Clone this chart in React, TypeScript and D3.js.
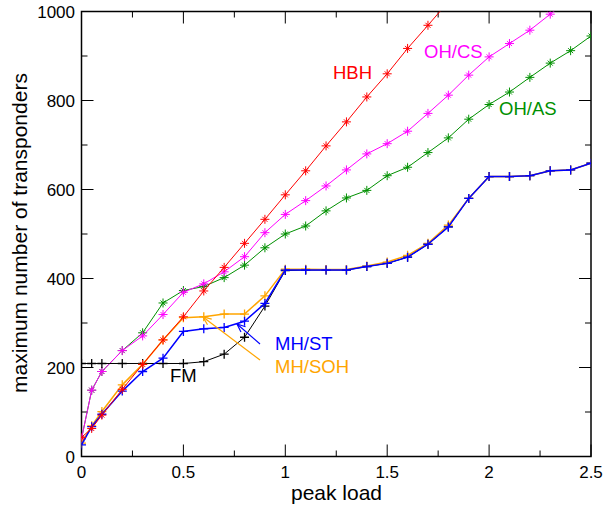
import React, { useEffect, useRef } from 'react';
import * as d3 from 'd3';

// peak load values (x) shared by all series
const loads = [0, 0.05, 0.1, 0.2, 0.3, 0.4, 0.5, 0.6, 0.7, 0.8, 0.9, 1.0, 1.1, 1.2, 1.3,
  1.4, 1.5, 1.6, 1.7, 1.8, 1.9, 2.0, 2.1, 2.2, 2.3, 2.4, 2.5];

// maximum number of transponders per algorithm
const hbh = [43, 63, 93, 151, 207, 262, 314, 372, 425, 479, 533, 588, 642, 698, 752, 808, 860, 917, 969, 1022];
const ohcs = [40, 149, 191, 238, 271, 319, 369, 388, 415, 449, 503, 544, 575, 608, 644, 680, 703, 731,
  771, 812, 857, 898, 928, 958, 994, 1030];
const ohas = [40, 149, 191, 238, 278, 345, 373, 382, 402, 430, 469, 500, 518, 552, 581, 598, 631, 650,
  683, 716, 758, 791, 819, 852, 884, 912, 945];
const mhst = [26, 67, 95, 147, 191, 221, 281, 287, 290, 304, 344, 419, 419, 419, 419, 427, 434, 448,
  477, 516, 580, 629, 629, 631, 642, 644, 659];
const mhsoh = [30, 69, 101, 161, 207, 262, 312, 314, 320, 320, 361, 421, 421, 420, 420, 428, 437, 452,
  479, 520, 580, 629, 629, 631, 642, 644, 659];
const fm = [209, 209, 209, 209, 209, 209, 209, 213, 230, 268, 338, 418, 419, 419, 419, 427, 434, 448,
  477, 516, 580, 629, 629, 631, 642, 644, 659];

const xTicks = [0, 0.5, 1, 1.5, 2, 2.5];
const xMinor = [0.25, 0.75, 1.25, 1.75, 2.25];
const yTicks = [0, 200, 400, 600, 800, 1000];
const yMinor = [100, 300, 500, 700, 900];

const series = [
  { name: 'OH/AS', values: ohas, color: '#009000', marker: 'star', width: 1 },
  { name: 'OH/CS', values: ohcs, color: '#ff00ff', marker: 'star', width: 1 },
  { name: 'FM', values: fm, color: '#000000', marker: 'plus', width: 1 },
  { name: 'MH/SOH', values: mhsoh, color: '#ffa500', marker: 'plus', width: 1.5 },
  { name: 'MH/ST', values: mhst, color: '#0000ff', marker: 'plus', width: 1.5 },
  { name: 'HBH', values: hbh, color: '#ff0000', marker: 'star', width: 1 },
];

const font = 'Liberation Sans, Arial, Helvetica, sans-serif';

export default function App() {
  const ref = useRef<SVGSVGElement>(null);

  useEffect(() => {
    const svg = d3.select(ref.current);
    svg.selectAll('*').remove();

    const left = 81.5, right = 591, top = 11.5, bottom = 456.5;
    const x = d3.scaleLinear().domain([0, 2.5]).range([left, right]);
    const y = d3.scaleLinear().domain([0, 1000]).range([bottom, top]);

    svg.append('defs').append('clipPath').attr('id', 'plot')
      .append('rect').attr('x', left).attr('y', top)
      .attr('width', right - left).attr('height', bottom - top);

    //ticks on all four sides, pointing inward
    const ticks = svg.append('g').attr('stroke', '#000').attr('stroke-width', 1);
    const tick = (vals: number[], len: number) => {
      vals.forEach(v => {
        ticks.append('line').attr('x1', x(v)).attr('x2', x(v)).attr('y1', bottom).attr('y2', bottom - len);
        ticks.append('line').attr('x1', x(v)).attr('x2', x(v)).attr('y1', top).attr('y2', top + len);
      });
    };
    const ytick = (vals: number[], len: number) => {
      vals.forEach(v => {
        ticks.append('line').attr('y1', y(v)).attr('y2', y(v)).attr('x1', left).attr('x2', left + len);
        ticks.append('line').attr('y1', y(v)).attr('y2', y(v)).attr('x1', right).attr('x2', right - len);
      });
    };
    tick(xTicks, 12);
    tick(xMinor, 6);
    ytick(yTicks, 12);
    ytick(yMinor, 6);

    svg.append('rect').attr('x', left).attr('y', top)
      .attr('width', right - left).attr('height', bottom - top)
      .attr('fill', 'none').attr('stroke', '#000').attr('stroke-width', 1.5);

    //tick labels
    svg.append('g').selectAll('text').data(xTicks).enter().append('text')
      .attr('x', d => x(d)).attr('y', bottom + 21.5)
      .attr('text-anchor', 'middle').attr('font-size', 17).attr('font-family', font)
      .text(d => String(d));
    svg.append('g').selectAll('text').data(yTicks).enter().append('text')
      .attr('x', 75).attr('y', d => y(d) + 6)
      .attr('text-anchor', 'end').attr('font-size', 17).attr('font-family', font)
      .text(d => String(d));

    //axis titles
    svg.append('text').attr('x', 336.5).attr('y', 499.5).attr('text-anchor', 'middle')
      .attr('font-size', 21).attr('font-family', font).text('peak load');
    svg.append('text').attr('transform', 'translate(27,233) rotate(-90)').attr('text-anchor', 'middle')
      .attr('font-size', 21).attr('font-family', font).text('maximum number of transponders');

    //lines + markers
    const plot = svg.append('g').attr('clip-path', 'url(#plot)');
    const line = d3.line<number>().x((d, i) => x(loads[i])).y(d => y(d));
    series.forEach(s => {
      plot.append('path').datum(s.values).attr('d', line)
        .attr('fill', 'none').attr('stroke', s.color).attr('stroke-width', s.width);
      const r = 4.5, q = 2.5;
      const sym = s.marker === 'star'
        ? `M${-r},0H${r}M0,${-r}V${r}M${-q},${-q}L${q},${q}M${-q},${q}L${q},${-q}`
        : `M${-r},0H${r}M0,${-r}V${r}`;
      plot.append('g').selectAll('path').data(s.values).enter().append('path')
        .attr('transform', (d, i) => `translate(${x(loads[i])},${y(d)})`)
        .attr('d', sym).attr('fill', 'none').attr('stroke', s.color)
        .attr('stroke-width', s.marker === 'star' ? 1 : 1.3);
    });

    //curve labels
    const labels = [
      { t: 'HBH', x: 333, y: 79, c: '#ff0000' },
      { t: 'OH/CS', x: 424, y: 58, c: '#ff00ff' },
      { t: 'OH/AS', x: 499, y: 115, c: '#009000' },
      { t: 'MH/ST', x: 275, y: 350, c: '#0000ff' },
      { t: 'MH/SOH', x: 275, y: 372.5, c: '#ffa500' },
      { t: 'FM', x: 170, y: 382, c: '#000000' },
    ];
    svg.append('g').selectAll('text').data(labels).enter().append('text')
      .attr('x', d => d.x).attr('y', d => d.y).attr('fill', d => d.c)
      .attr('font-size', 18.5).attr('font-family', font).text(d => d.t);

    //pointer arrows
    const arrow = (x1: number, y1: number, x2: number, y2: number, c: string) => {
      const a = Math.atan2(y2 - y1, x2 - x1), L = 9, w = 0.4;
      const g = svg.append('g').attr('stroke', c).attr('fill', 'none').attr('stroke-width', 1.2);
      g.append('line').attr('x1', x1).attr('y1', y1).attr('x2', x2).attr('y2', y2);
      g.append('path').attr('d',
        `M${x2 - L * Math.cos(a - w)},${y2 - L * Math.sin(a - w)}L${x2},${y2}L${x2 - L * Math.cos(a + w)},${y2 - L * Math.sin(a + w)}`);
    };
    arrow(260, 344, 237, 324, '#0000ff');
    arrow(260, 360, 203, 317, '#ffa500');
  }, []);

  return (
    <svg ref={ref} width={605} height={508} style={{ position: 'absolute', left: 0, top: 0, background: '#fff' }} />
  );
}
